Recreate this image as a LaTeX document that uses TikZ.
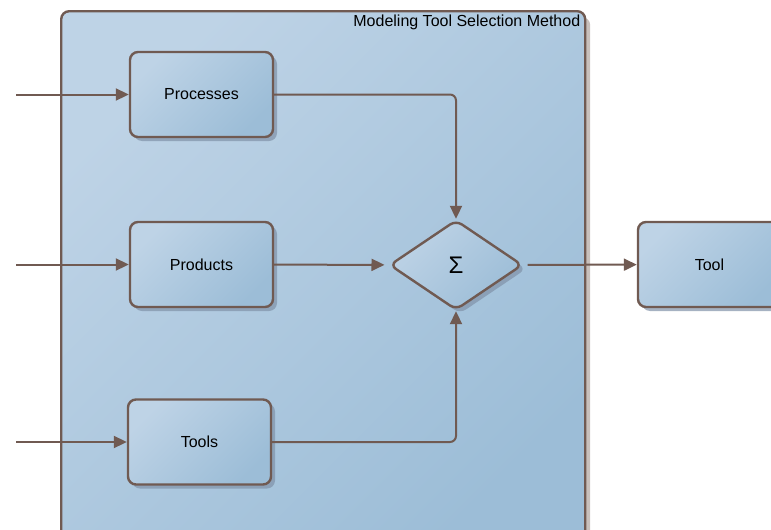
\documentclass[tikz,border=0pt]{standalone}
\usepackage{fontspec}
\setmainfont{Liberation Sans}
\usetikzlibrary{shapes.geometric,positioning,arrows.meta,shadows}

\definecolor{edgebrown}{RGB}{112,90,82}
\definecolor{bluelight}{RGB}{190,211,230}
\definecolor{bluedark}{RGB}{156,189,215}
\definecolor{boxshade}{RGB}{128,146,168}
\definecolor{panelshade}{RGB}{200,192,188}

\begin{document}
\begin{tikzpicture}[
  x=1pt,y=-1pt,
  >={Triangle[length=13pt,width=12pt]},
  font=\fontsize{16}{19}\selectfont,
  panel/.style={draw=edgebrown,line width=2.4pt,rounded corners=8pt,
    top color=bluelight,bottom color=bluedark,shading angle=45,
    drop shadow={shadow xshift=5pt,shadow yshift=-6pt,fill=panelshade,opacity=1}},
  box/.style={draw=edgebrown,line width=2.4pt,rounded corners=8pt,
    minimum width=143pt,minimum height=85pt,
    top color=bluelight,bottom color=bluedark,shading angle=45,
    drop shadow={shadow xshift=4pt,shadow yshift=-4pt,fill=boxshade,opacity=0.7}},
  sum/.style={diamond,draw=edgebrown,line width=2.4pt,rounded corners=7pt,
    aspect=1.49,inner sep=0pt,minimum width=133pt,minimum height=90pt,
    top color=bluelight,bottom color=bluedark,shading angle=45,
    drop shadow={shadow xshift=4pt,shadow yshift=-4pt,fill=boxshade,opacity=0.7}},
  flow/.style={->,draw=edgebrown,line width=2pt}
]
  \useasboundingbox (0,0) rectangle (771,530);

  % outer method frame
  \node[panel,anchor=north west,minimum width=524pt,minimum height=545pt] (method) at (60,10) {};
  \node[anchor=north east,inner sep=0pt] at ([xshift=-6pt,yshift=-5pt]method.north east)
    {Modeling Tool Selection Method};

  % criteria
  \node[box] (processes) at (201.5,94.5) {Processes};
  \node[box] (products) at (201.5,264.5) {Products};
  \node[box] (tools) at (199.5,442) {Tools};

  \node[sum] (sigma) at (456,265) {\fontsize{24}{26}\selectfont Σ};
  \node[box] (tool) at (709.5,264.5) {Tool};

  % inputs from outside
  \coordinate (inProcesses) at (16,94.5);
  \coordinate (inProducts) at (16,264.5);
  \coordinate (inTools) at (16,442);
  \draw[flow] (inProcesses) -- (processes);
  \draw[flow] (inProducts) -- (products);
  \draw[flow] (inTools) -- (tools);

  \draw[flow,rounded corners=6pt] (processes.east) -| (sigma.north);
  \draw[flow,shorten >=4pt] (products) -- (sigma);
  \draw[flow,rounded corners=6pt] (tools.east) -| (sigma.south);
  \draw[flow,shorten <=4pt] (sigma) -- (tool);
\end{tikzpicture}
\end{document}
